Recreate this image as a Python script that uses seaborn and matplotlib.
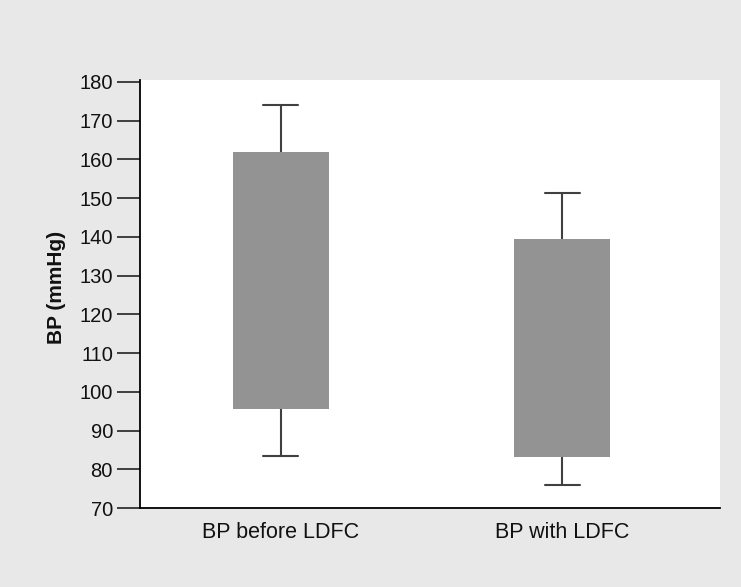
import matplotlib
matplotlib.use("Agg")
import matplotlib.pyplot as plt
import seaborn as sns
import pandas as pd

categories = ["BP before LDFC", "BP with LDFC"]
whisker_low = [83.3, 75.9]
q1 = [95.6, 83.2]
median = [128.0, 111.0]
q3 = [161.9, 139.5]
whisker_high = [174.1, 151.3]
y_ticks = [70, 80, 90, 100, 110, 120, 130, 140, 150, 160, 170, 180]

rows = []
for c, a, b, m, d, e in zip(categories, whisker_low, q1, median, q3, whisker_high):
    for v in (a, b, m, d, e):
        rows.append({"group": c, "BP": v})
df = pd.DataFrame(rows)

sns.set_style("white")
plt.rcParams["font.family"] = ["Liberation Sans", "DejaVu Sans"]

fig = plt.figure(figsize=(7.41, 5.87), dpi=100, facecolor="#e8e8e8")
ax = fig.add_axes([140 / 741, 79 / 587, 580 / 741, 428 / 587])
ax.set_facecolor("white")

box_color = "#939393"
line_color = "#404040"
sns.boxplot(
    data=df, x="group", y="BP", order=categories, ax=ax,
    whis=(0, 100), width=0.34, color=box_color, linecolor=line_color,
    linewidth=1.5, saturation=1,
    boxprops={"edgecolor": box_color, "linewidth": 0},
    medianprops={"visible": False},
    capwidths=0.125,
    showfliers=False,
)

ax.set_xlim(-0.5, 1.56)
ax.set_ylim(70, 180.5)
ax.set_yticks(y_ticks)
ax.set_yticklabels([str(t) for t in y_ticks])
for s in ["top", "right"]:
    ax.spines[s].set_visible(False)
for s in ["left", "bottom"]:
    ax.spines[s].set_color("black")
    ax.spines[s].set_linewidth(1.3)
ax.tick_params(axis="y", direction="out", length=16.5, width=1.2, color="#222222",
               labelsize=14.5, pad=3, left=True, labelcolor="#111111")
ax.tick_params(axis="x", length=0, labelsize=15.5, pad=10, labelcolor="#111111")
ax.set_xlabel("")
ax.set_ylabel("BP (mmHg)", fontsize=15, fontweight="bold", color="#111111")
ax.yaxis.set_label_coords(-0.128, 0.515)

fig.savefig("out.png", dpi=100, facecolor=fig.get_facecolor())
